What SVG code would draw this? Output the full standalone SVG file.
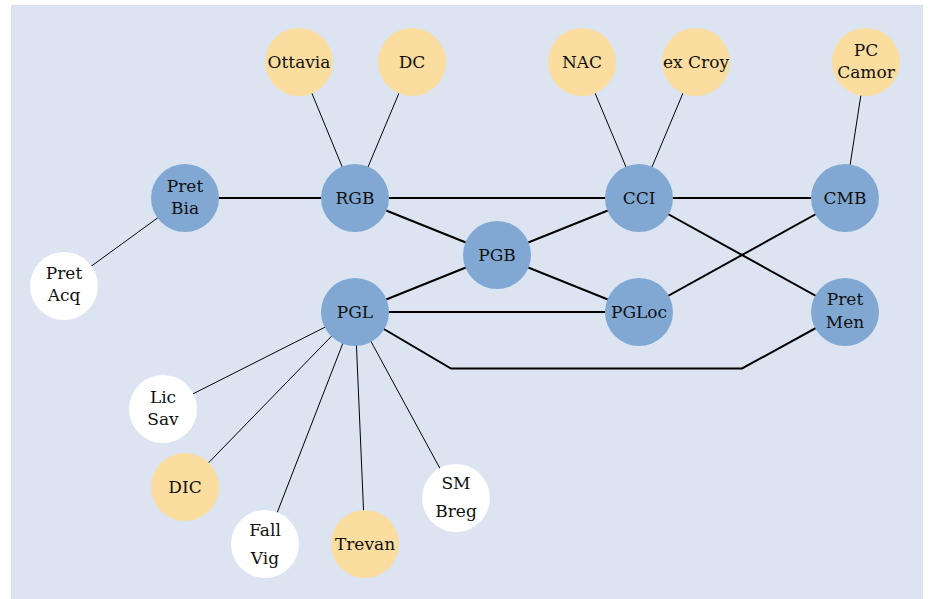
<svg xmlns="http://www.w3.org/2000/svg" width="930" height="599" viewBox="0 0 930 599">
  <style>
    .bg { fill: #dce4f1; }
    .main { fill: #80a8d2; }
    .ext { fill: #fadd9f; }
    .free { fill: #ffffff; }
    .thick { stroke: #000; stroke-width: 2; fill: none; stroke-linejoin: miter; }
    .thin { stroke: #000; stroke-width: 1; fill: none; }
    text { font-family: "DejaVu Serif", "Liberation Serif", serif; font-size: 17px; fill: #111; text-anchor: middle; }
  </style>
  <defs>
    <circle id="node" r="34"/>
  </defs>

  <rect class="bg" x="11" y="5" width="912" height="594"/>

  <g id="connectors">
    <!-- main structure -->
    <line class="thick" x1="185" y1="198" x2="355" y2="198"/>
    <line class="thick" x1="355" y1="198" x2="639" y2="198"/>
    <line class="thick" x1="639" y1="198" x2="845" y2="198"/>
    <line class="thick" x1="355" y1="198" x2="497" y2="255"/>
    <line class="thick" x1="497" y1="255" x2="639" y2="198"/>
    <line class="thick" x1="355" y1="312" x2="497" y2="255"/>
    <line class="thick" x1="497" y1="255" x2="639" y2="312"/>
    <line class="thick" x1="355" y1="312" x2="639" y2="312"/>
    <line class="thick" x1="639" y1="312" x2="845" y2="198"/>
    <line class="thick" x1="639" y1="198" x2="845" y2="312"/>
    <polyline class="thick" points="355,312 451,368.5 742,368.5 845,312"/>
    <!-- satellites -->
    <line class="thin" x1="299" y1="62" x2="355" y2="198"/>
    <line class="thin" x1="412" y1="62" x2="355" y2="198"/>
    <line class="thin" x1="582" y1="62" x2="639" y2="198"/>
    <line class="thin" x1="696" y1="62" x2="639" y2="198"/>
    <line class="thin" x1="866" y1="62" x2="845" y2="198"/>
    <line class="thin" x1="185" y1="198" x2="64" y2="286"/>
    <line class="thin" x1="355" y1="312" x2="163" y2="409"/>
    <line class="thin" x1="355" y1="312" x2="185" y2="487"/>
    <line class="thin" x1="355" y1="312" x2="265" y2="544"/>
    <line class="thin" x1="355" y1="312" x2="365" y2="544"/>
    <line class="thin" x1="355" y1="312" x2="456" y2="498"/>
  </g>

  <g id="ottavia"><use href="#node" class="ext" x="299" y="62"/><text x="299" y="68">Ottavia</text></g>
  <g id="dc"><use href="#node" class="ext" x="412" y="62"/><text x="412" y="68">DC</text></g>
  <g id="nac"><use href="#node" class="ext" x="582" y="62"/><text x="582" y="68">NAC</text></g>
  <g id="excroy"><use href="#node" class="ext" x="696" y="62"/><text x="696" y="68">ex Croy</text></g>
  <g id="pccamor"><use href="#node" class="ext" x="866" y="62"/><text x="866" y="56">PC</text><text x="866" y="78">Camor</text></g>

  <g id="pretbia"><use href="#node" class="main" x="185" y="198"/><text x="185" y="192">Pret</text><text x="185" y="214">Bia</text></g>
  <g id="rgb"><use href="#node" class="main" x="355" y="198"/><text x="355" y="204">RGB</text></g>
  <g id="cci"><use href="#node" class="main" x="639" y="198"/><text x="639" y="204">CCI</text></g>
  <g id="cmb"><use href="#node" class="main" x="845" y="198"/><text x="845" y="204">CMB</text></g>
  <g id="pgb"><use href="#node" class="main" x="497" y="255"/><text x="497" y="261">PGB</text></g>
  <g id="pgl"><use href="#node" class="main" x="355" y="312"/><text x="355" y="318">PGL</text></g>
  <g id="pgloc"><use href="#node" class="main" x="639" y="312"/><text x="639" y="318">PGLoc</text></g>
  <g id="pretmen"><use href="#node" class="main" x="845" y="312"/><text x="845" y="305">Pret</text><text x="845" y="328">Men</text></g>

  <g id="pretacq"><use href="#node" class="free" x="64" y="286"/><text x="64" y="279">Pret</text><text x="64" y="301">Acq</text></g>
  <g id="licsav"><use href="#node" class="free" x="163" y="409"/><text x="163" y="403">Lic</text><text x="163" y="425">Sav</text></g>
  <g id="dic"><use href="#node" class="ext" x="185" y="487"/><text x="185" y="493">DIC</text></g>
  <g id="fallvig"><use href="#node" class="free" x="265" y="544"/><text x="265" y="536">Fall</text><text x="265" y="564">Vig</text></g>
  <g id="trevan"><use href="#node" class="ext" x="365" y="544"/><text x="365" y="550">Trevan</text></g>
  <g id="smbreg"><use href="#node" class="free" x="456" y="498"/><text x="456" y="489">SM</text><text x="456" y="517">Breg</text></g>
</svg>
